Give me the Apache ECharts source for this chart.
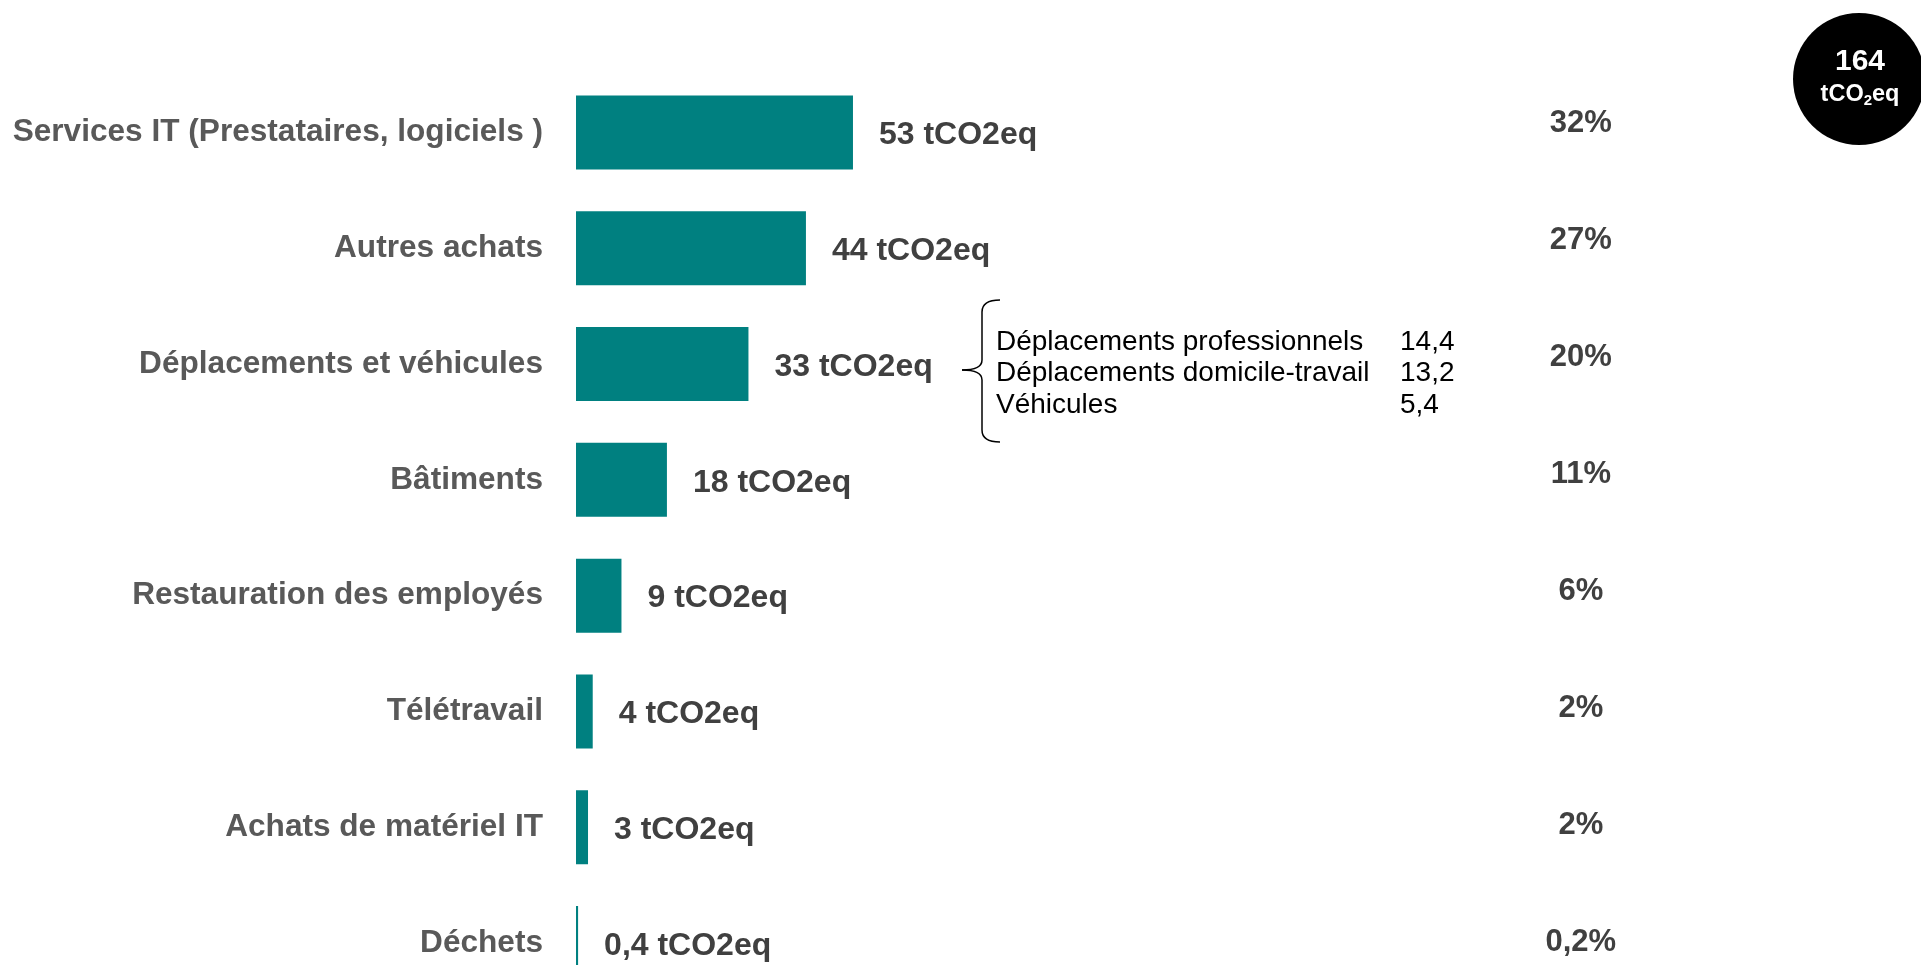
<!DOCTYPE html>
<html>
<head>
<meta charset="utf-8">
<script src="https://cdn.jsdelivr.net/npm/echarts@6/dist/echarts.min.js"></script>
<style>
html,body{margin:0;padding:0;background:#fff;}
#chart{width:1921px;height:965px;}
</style>
</head>
<body>
<div id="chart"></div>
<script>
// ---- data ----
const categories = [
  'Services IT (Prestataires, logiciels )',
  'Autres achats',
  'Déplacements et véhicules',
  'Bâtiments',
  'Restauration des employés',
  'Télétravail',
  'Achats de matériel IT',
  'Déchets'
];
const barValues = [53, 44, 33, 17.4, 8.7, 3.2, 2.3, 0.4];
const valueLabels = ['53 tCO2eq', '44 tCO2eq', '33 tCO2eq', '18 tCO2eq', '9 tCO2eq', '4 tCO2eq', '3 tCO2eq', '0,4 tCO2eq'];
const percentLabels = ['32%', '27%', '20%', '11%', '6%', '2%', '2%', '0,2%'];
const breakdownNames = ['Déplacements professionnels', 'Déplacements domicile-travail', 'Véhicules'];
const breakdownValues = ['14,4', '13,2', '5,4'];
const totalValue = '164';

// ---- chart ----
const FONT = '"Liberation Sans", Arial, Helvetica, sans-serif';
const chart = echarts.init(document.getElementById('chart'), null, {renderer: 'canvas'});

const graphics = [];
const braceStyle = {fill: 'none', stroke: '#000', lineWidth: 1.5};
const bez = (x1, y1, cx, cy, x2, y2) => ({type: 'bezierCurve', shape: {x1, y1, x2, y2, cpx1: cx, cpy1: cy}, style: braceStyle});
const ln = (x1, y1, x2, y2) => ({type: 'line', shape: {x1, y1, x2, y2}, style: braceStyle});
graphics.push(bez(1000, 300, 982, 300, 982, 312));
graphics.push(ln(982, 312, 982, 360));
graphics.push(bez(982, 360, 982, 370, 962, 370));
graphics.push(bez(962, 370, 982, 370, 982, 380));
graphics.push(ln(982, 380, 982, 430));
graphics.push(bez(982, 430, 982, 442, 1000, 442));

breakdownNames.forEach((n, i) => {
  graphics.push({
    type: 'text', x: 996, y: 342 + i * 31.5,
    style: {text: n, font: '28px ' + FONT, fill: '#000', verticalAlign: 'middle'}
  });
  graphics.push({
    type: 'text', x: 1400, y: 342 + i * 31.5,
    style: {text: breakdownValues[i], font: '28px ' + FONT, fill: '#000', verticalAlign: 'middle'}
  });
});
// total circle
graphics.push({
  type: 'circle', shape: {cx: 1859, cy: 79, r: 66}, style: {fill: '#000'}
});
graphics.push({
  type: 'text', x: 1860, y: 62,
  style: {text: totalValue, font: 'bold 30px ' + FONT, fill: '#fff', align: 'center', verticalAlign: 'middle'}
});
graphics.push({
  type: 'text', x: 1860, y: 95,
  style: {
    text: '{a|tCO}{s|2}{a|eq}', align: 'center', verticalAlign: 'middle',
    rich: {
      a: {fontFamily: FONT, fontWeight: 'bold', fontSize: 23.5, fill: '#fff'},
      s: {fontFamily: FONT, fontWeight: 'bold', fontSize: 15, fill: '#fff', padding: [11, 0, 0, 0]}
    }
  }
});

const option = {
  animation: false,
  backgroundColor: '#fff',
  grid: [
    {left: 576, top: 132.5, width: 966.8, height: 810.5},
    {left: 576, top: 123.7, width: 966.8, height: 818.3}
  ],
  xAxis: [
    {type: 'value', min: 0, max: 185, show: false, gridIndex: 0},
    {type: 'value', min: 0, max: 185, show: false, gridIndex: 1}
  ],
  yAxis: [
    {
      type: 'category', data: categories, inverse: true, boundaryGap: false, gridIndex: 0,
      axisLine: {show: false}, axisTick: {show: false}, splitLine: {show: false},
      axisLabel: {
        margin: 33, fontFamily: FONT, fontWeight: 'bold', fontSize: 31.6, color: '#595959'
      }
    },
    {
      type: 'category', data: percentLabels, inverse: true, position: 'right', boundaryGap: false, gridIndex: 1,
      axisLine: {show: false}, axisTick: {show: false}, splitLine: {show: false},
      axisLabel: {
        margin: 38, align: 'center', verticalAlign: 'middle',
        fontFamily: FONT, fontWeight: 'bold', fontSize: 31, color: '#404040'
      }
    }
  ],
  series: [{
    type: 'bar',
    data: barValues,
    barWidth: 74,
    clip: false,
    xAxisIndex: 0,
    yAxisIndex: 0,
    itemStyle: {color: '#008080'},
    label: {
      show: true, position: 'right', distance: 26, offset: [0, 3],
      fontFamily: FONT, fontWeight: 'bold', fontSize: 32, color: '#404040',
      formatter: p => valueLabels[p.dataIndex]
    }
  }],
  graphic: graphics
};
chart.setOption(option);
</script>
</body>
</html>
